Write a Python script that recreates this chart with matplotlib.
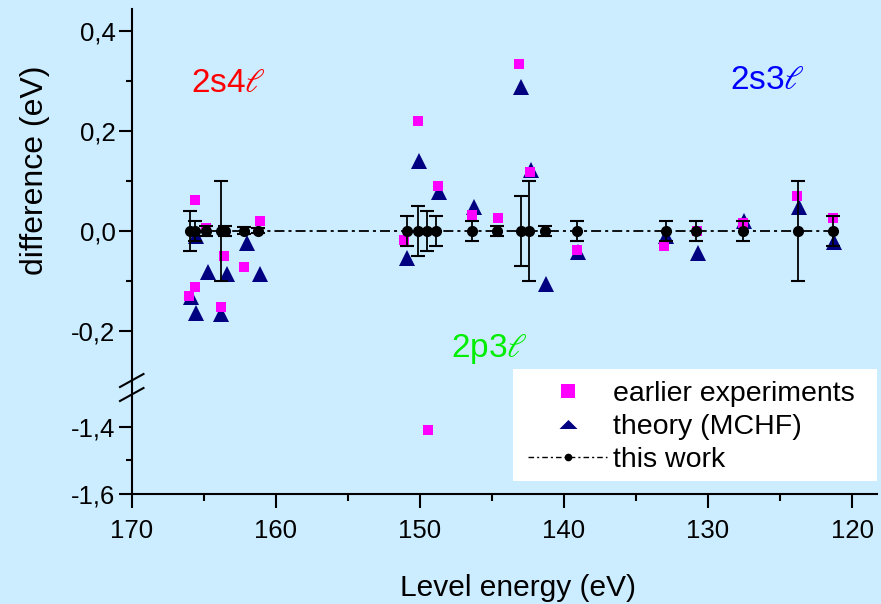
import matplotlib
matplotlib.use('Agg')
import matplotlib.pyplot as plt
from matplotlib.lines import Line2D
from matplotlib.patches import Rectangle
from matplotlib.ticker import FixedLocator, FixedFormatter

# ---------------- data ----------------
exp_energy = [166.0, 165.6, 165.6, 164.8, 163.8, 163.6, 162.2, 161.1,
              151.1, 150.1, 149.4, 148.75, 146.35, 144.6, 143.1, 142.35,
              139.1, 133.05, 130.8, 127.6, 123.8, 121.35]
exp_diff = [-0.13, 0.062, -0.113, 0.005, -0.153, -0.05, -0.072, 0.02,
            -0.019, 0.22, -1.41, 0.09, 0.031, 0.025, 0.333, 0.117,
            -0.039, -0.031, 0.0, 0.015, 0.069, 0.025]

theo_energy = [165.9, 165.5, 165.5, 164.7, 163.8, 163.4, 162.0, 161.1,
               150.9, 150.05, 148.7, 146.25, 143.0, 142.3, 141.25, 139.05,
               132.9, 130.7, 127.5, 123.7, 121.25]
theo_diff = [-0.133, -0.01, -0.165, -0.083, -0.167, -0.087, -0.025, -0.087,
             -0.055, 0.14, 0.077, 0.047, 0.287, 0.121, -0.107, -0.043,
             -0.01, -0.045, 0.019, 0.048, -0.023]

work_energy = [165.95, 165.6, 164.8, 163.8, 163.5, 162.2, 161.25,
               150.9, 150.1, 149.5, 148.9, 146.35, 144.65, 143.0, 142.4,
               141.3, 139.1, 132.95, 130.85, 127.6, 123.75, 121.3]
work_diff = [0.0, 0.0, 0.0, 0.0, 0.0, 0.0, 0.0,
             0.0, 0.0, 0.0, 0.0, 0.0, 0.0, 0.0, 0.0,
             0.0, 0.0, 0.0, 0.0, 0.0, 0.0, 0.0]
work_err = [0.04, 0.02, 0.01, 0.1, 0.01, 0.007, 0.005,
            0.03, 0.05, 0.04, 0.03, 0.02, 0.01, 0.07, 0.1,
            0.01, 0.02, 0.02, 0.02, 0.02, 0.1, 0.03]

x_ticks = [170, 160, 150, 140, 130, 120]
x_tick_labels = ['170', '160', '150', '140', '130', '120']
x_minor = [165, 155, 145, 135, 125]
y_ticks_top = [0.4, 0.2, 0.0, -0.2]
y_tick_labels_top = ['0,4', '0,2', '0,0', '-0,2']
y_minor_top = [0.3, 0.1, -0.1]
y_ticks_bot = [-1.4, -1.6]
y_tick_labels_bot = ['-1,4', '-1,6']
y_minor_bot = [-1.5]

legend_labels = ['earlier experiments', 'theory (MCHF)', 'this work']
group_labels = ['2s4$\\ell$', '2s3$\\ell$', '2p3$\\ell$']
group_x = [163.3, 125.9, 145.2]
group_y = [0.294, 0.30, -0.236]
group_colors = ['#FF0000', '#0000FF', '#00EE00']

# ---------------- style ----------------
plt.rcParams['font.family'] = ['Liberation Sans', 'DejaVu Sans']
plt.rcParams['mathtext.fontset'] = 'stix'
plt.rcParams['lines.scale_dashes'] = False

W, H = 881, 604
bg = '#CCECFF'
mag = '#FF00FF'
navy = '#000080'
dashdot = (0, (7.2, 2.9, 2.2, 2.9))

fig = plt.figure(figsize=(W / 100, H / 100), dpi=100)
fig.patch.set_facecolor(bg)

L = 131.5 / W
R = 876.7 / W
ax_top = fig.add_axes([L, 1 - 384 / H, R - L, (384 - 9) / H])
ax_bot = fig.add_axes([L, 1 - 494 / H, R - L, (494 - 384) / H])

for ax in (ax_top, ax_bot):
    ax.set_facecolor(bg)
    ax.plot(theo_energy, theo_diff, linestyle='none', marker='^',
            markersize=11.5, color=navy, mew=0, zorder=2)
    ax.plot(exp_energy, exp_diff, linestyle='none', marker='s',
            markersize=7.5, color=mag, mew=0, zorder=3)
    ax.errorbar(work_energy, work_diff, yerr=work_err, color='k',
                marker='o', markersize=7, linestyle=dashdot, lw=1.3,
                elinewidth=1.3, capsize=4.7, capthick=1.5, zorder=4)
    ax.set_xlim(170, 118.3)
    ax.spines['top'].set_visible(False)
    ax.spines['right'].set_visible(False)
    ax.spines['left'].set_linewidth(1.5)
    ax.spines['bottom'].set_linewidth(1.5)
    ax.tick_params(axis='y', which='major', direction='out', length=9.5,
                   width=1.5, labelsize=18.5, pad=2)
    ax.tick_params(axis='y', which='minor', direction='out', length=4.6,
                   width=1.5)

ax_top.set_ylim(-0.3066, 0.443)
ax_bot.set_ylim(-1.6, -1.272)

ax_top.spines['bottom'].set_visible(False)
ax_top.tick_params(axis='x', which='both', bottom=False, labelbottom=False)

ax_top.yaxis.set_major_locator(FixedLocator(y_ticks_top))
ax_top.yaxis.set_major_formatter(FixedFormatter(y_tick_labels_top))
ax_top.yaxis.set_minor_locator(FixedLocator(y_minor_top))
ax_bot.yaxis.set_major_locator(FixedLocator(y_ticks_bot))
ax_bot.yaxis.set_major_formatter(FixedFormatter(y_tick_labels_bot))
ax_bot.yaxis.set_minor_locator(FixedLocator(y_minor_bot))

ax_bot.xaxis.set_major_locator(FixedLocator(x_ticks))
ax_bot.xaxis.set_major_formatter(FixedFormatter(x_tick_labels))
ax_bot.xaxis.set_minor_locator(FixedLocator(x_minor))
ax_bot.tick_params(axis='x', which='major', direction='out', length=10,
                   width=1.5, labelsize=18.5, pad=8)
ax_bot.tick_params(axis='x', which='minor', direction='out', length=5,
                   width=1.5)

# axis labels
ax_bot.set_xlabel('Level energy (eV)', fontsize=21.5)
ax_bot.xaxis.label.set_verticalalignment('baseline')
ax_bot.xaxis.set_label_coords((518 - 131.5) / 745.2, (494 - 596) / 110)
ax_top.set_ylabel('difference (eV)', fontsize=23)
ax_top.yaxis.label.set_verticalalignment('center')
ax_top.yaxis.set_label_coords((35 - 131.5) / 745.2, (384 - 170) / 375)

# group labels
for lab, gx, gy, gc in zip(group_labels, group_x, group_y, group_colors):
    ax_top.text(gx, gy, lab, color=gc, fontsize=24, ha='center', va='center')

# axis break marks
for y0 in (387, 401):
    fig.add_artist(Line2D([120 / W, 143.5 / W], [1 - y0 / H, 1 - (y0 - 13) / H],
                          color='k', lw=1.5, transform=fig.transFigure,
                          zorder=5))

# legend box
fig.add_artist(Rectangle((513 / W, 1 - 481 / H), 364 / W, 112 / H,
                         transform=fig.transFigure, facecolor='white',
                         edgecolor='none', zorder=5))
h_exp = Line2D([], [], marker='s', color=mag, linestyle='none',
               markersize=9.5, mew=0)
h_theo = Line2D([], [], marker=[(-1, -0.5), (1, -0.5), (0, 0.5)],
                color=navy, linestyle='none', markersize=13, mew=0)
h_work = Line2D([], [], color='k', marker='o', markersize=4.5,
                linestyle=(0, (4, 2.2, 1.5, 2.2)), lw=1.0)
leg = fig.legend([h_exp, h_theo, h_work], legend_labels, loc='upper left',
                 bbox_to_anchor=(528 / W, 1 - 381 / H), frameon=False,
                 fontsize=20.5, handlelength=2.78, handletextpad=0.21,
                 labelspacing=0.24, borderpad=0, borderaxespad=0,
                 numpoints=1)
leg.set_zorder(6)

fig.savefig('out.png', dpi=100, facecolor=bg)
